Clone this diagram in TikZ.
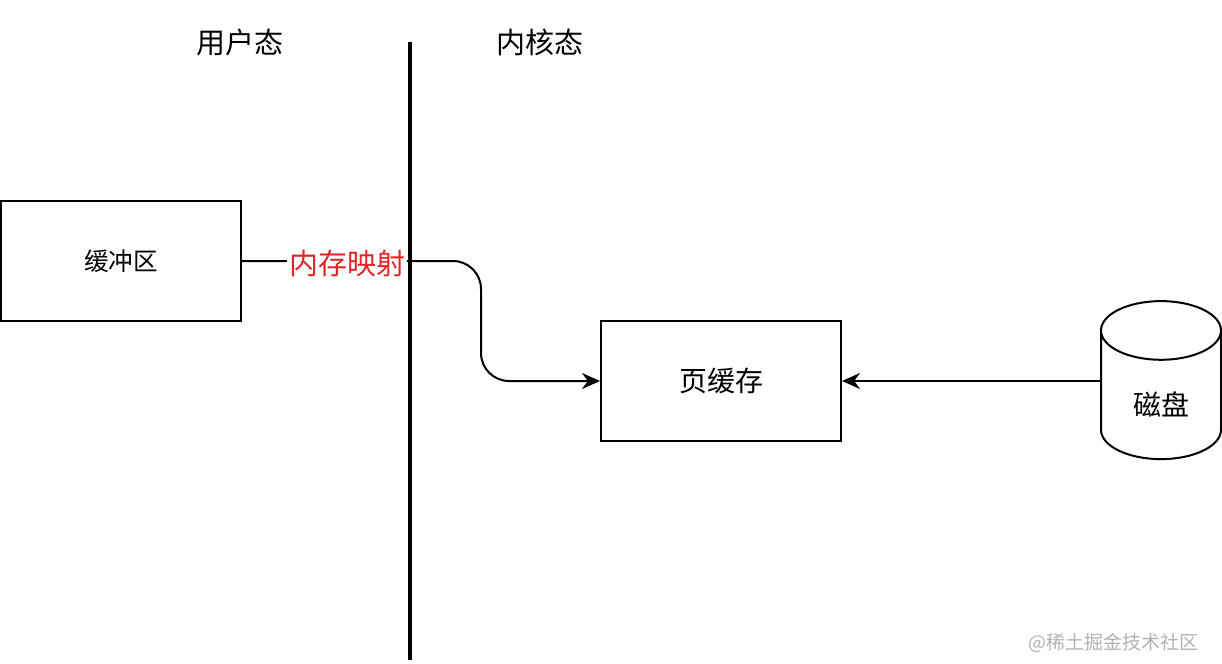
\documentclass[tikz,border=0pt]{standalone}
\usepackage{fontspec}
\newfontfamily\cjk{Noto Sans CJK SC}
\usetikzlibrary{positioning,shapes.geometric,arrows.meta}
\definecolor{mapred}{RGB}{222,38,38}
\tikzset{
  box/.style={draw, line width=1pt, minimum width=120pt, minimum height=60pt, font=\cjk\fontsize{14}{16}\selectfont},
  disk/.style={draw, line width=1pt, cylinder, shape border rotate=90, aspect=4.4, minimum width=60pt, minimum height=79pt, font=\cjk\fontsize{14}{16}\selectfont},
  side/.style={font=\cjk\fontsize{14.5}{16}\selectfont},
  link/.style={line width=1pt, -{Stealth[length=9pt, width=8pt]}},
}
\begin{document}
\begin{tikzpicture}[x=0.5pt, y=-0.5pt]
    \useasboundingbox (0,0) rectangle (1222,664);
    \node[box, font=\cjk\fontsize{12.3}{14}\selectfont] (buf) at (121,261) {缓冲区};
    \node[box] (cache) at (721,381) {页缓存};
    \node[disk, label={[font=\cjk\fontsize{14}{16}\selectfont, yshift=-1pt]center:磁盘}] (hd) at (1161,402) {};
    \node[side] (user) at (240,42) {用户态};
    \node[side] (kern) at (540,42) {内核态};
    \coordinate (top) at (410,42);
    \coordinate (bottom) at (410,660);
    % arrows
    \draw[link] (hd.west |- cache.east) -- (cache.east);
    \draw[link, rounded corners=14pt] (buf.east) -- (481,261) |- (cache.west);
    \node[side, fill=white, text=mapred, inner sep=1pt] (map) at (347,264) {内存映射};
    \draw[line width=2.2pt] (top) -- (bottom);
    \node[text=black!30, font=\cjk\fontsize{9.5}{11}\selectfont, anchor=east] (mark) at (1206,643) {@稀土掘金技术社区};
\end{tikzpicture}
\end{document}
